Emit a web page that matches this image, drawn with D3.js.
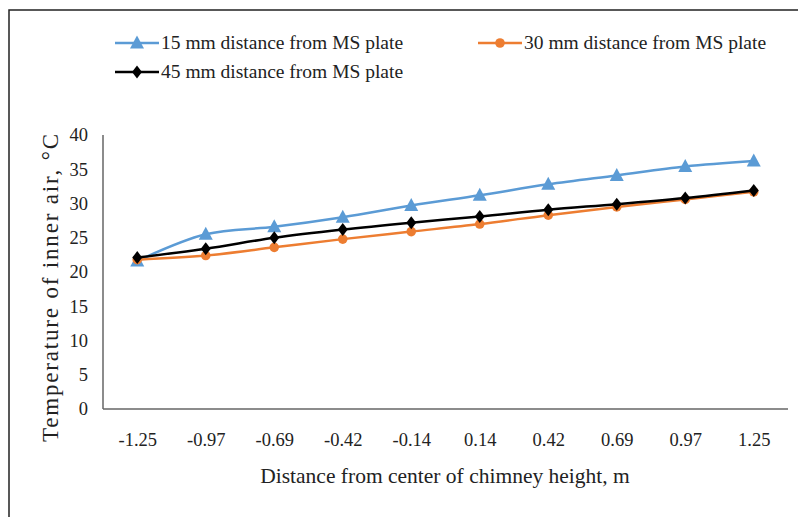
<!DOCTYPE html>
<html lang="en">
<head>
<meta charset="utf-8">
<title>Temperature of inner air</title>
<script src="https://cdn.jsdelivr.net/npm/d3@7"></script>
<style>
    body { margin: 0; background: #fff; }
    svg text { font-family: "Liberation Serif", "Times New Roman", serif; fill: #222; }
</style>
</head>
<body>
<svg id="chart" width="798" height="517"></svg>
<script>
// distance from center of chimney height (m)
var categories = ["-1.25", "-0.97", "-0.69", "-0.42", "-0.14", "0.14", "0.42", "0.69", "0.97", "1.25"];
// inner air temperature, °C
var mm15 = [21.6, 25.5, 26.6, 28.0, 29.7, 31.2, 32.8, 34.1, 35.4, 36.2];
var mm30 = [21.8, 22.4, 23.6, 24.8, 25.9, 27.0, 28.3, 29.5, 30.6, 31.7];
var mm45 = [22.1, 23.4, 25.0, 26.2, 27.2, 28.1, 29.1, 29.9, 30.8, 31.9];
var yTicks = [0, 5, 10, 15, 20, 25, 30, 35, 40];

var series = [
    {name: "15 mm distance from MS plate", values: mm15, color: "#5b9bd5", marker: "triangle"},
    {name: "30 mm distance from MS plate", values: mm30, color: "#ed7d31", marker: "circle"},
    {name: "45 mm distance from MS plate", values: mm45, color: "#000000", marker: "diamond"}
];

var svg = d3.select("#chart");
// note: "top" is taken by window.top, so plot edges get their own names
var plotLeft = 103, plotRight = 788, plotTop = 135, plotBottom = 409;

// frame (only top and left edges show in the picture)
svg.append("path")
    .attr("d", "M9,517 V10 H798")
    .attr("fill", "none")
    .attr("stroke", "#222")
    .attr("stroke-width", 1.5);

var x = d3.scalePoint().domain(categories).range([plotLeft, plotRight]).padding(0.5);
var y = d3.scaleLinear().domain([0, 40]).range([plotBottom, plotTop]);

// axes
var yAxis = svg.append("g")
    .attr("transform", "translate(" + plotLeft + ",0)")
    .call(d3.axisLeft(y).tickValues(yTicks).tickSize(0).tickPadding(15));
var xAxis = svg.append("g")
    .attr("transform", "translate(0," + plotBottom + ")")
    .call(d3.axisBottom(x).tickSize(0).tickPadding(24));
xAxis.select(".domain").attr("d", "M" + plotLeft + ",0H" + plotRight);
yAxis.select(".domain").attr("d", "M0," + plotTop + "V" + plotBottom);
svg.selectAll(".domain").attr("stroke", "#666").attr("stroke-width", 1.5);
svg.selectAll(".tick text")
    .attr("font-size", 18.5)
    .attr("font-family", "Liberation Serif")
    .attr("fill", "#222");

// axis titles
svg.append("text")
    .attr("transform", "translate(58,288) rotate(-90)")
    .attr("text-anchor", "middle")
    .attr("font-size", 23)
    .attr("textLength", 308)
    .attr("lengthAdjust", "spacing")
    .text("Temperature of inner air, °C");
svg.append("text")
    .attr("x", 445)
    .attr("y", 483)
    .attr("text-anchor", "middle")
    .attr("font-size", 21.5)
    .text("Distance from center of chimney height, m");

var line = d3.line()
    .x(function(d, i) { return x(categories[i]); })
    .y(function(d) { return y(d); })
    .curve(d3.curveCatmullRom.alpha(0.5));

function drawMarker(g, type, color) {
    if (type === "triangle") {
        g.append("path").attr("d", "M0,-7.5 L7,5.5 L-7,5.5 Z").attr("fill", color);
    } else if (type === "circle") {
        g.append("circle").attr("r", 4.8).attr("fill", color);
    } else {
        g.append("path").attr("d", "M0,-6.5 L5,0 L0,6.5 L-5,0 Z").attr("fill", color);
    }
}

series.forEach(function(s) {
    svg.append("path")
        .attr("d", line(s.values))
        .attr("fill", "none")
        .attr("stroke", s.color)
        .attr("stroke-width", 2.5);
    s.values.forEach(function(v, i) {
        var g = svg.append("g")
            .attr("transform", "translate(" + x(categories[i]) + "," + y(v) + ")");
        drawMarker(g, s.marker, s.color);
    });
});

// legend
var legendPos = [[115, 43], [478, 43], [115, 72]];
series.forEach(function(s, i) {
    var g = svg.append("g").attr("transform", "translate(" + legendPos[i][0] + "," + legendPos[i][1] + ")");
    g.append("line").attr("x1", 0).attr("x2", 44).attr("y1", 0).attr("y2", 0)
        .attr("stroke", s.color).attr("stroke-width", 2.5);
    var m = g.append("g").attr("transform", "translate(22,0)");
    drawMarker(m, s.marker, s.color);
    g.append("text")
        .attr("x", 46)
        .attr("y", 6)
        .attr("font-size", 19.5)
        .text(s.name);
});
</script>
</body>
</html>
